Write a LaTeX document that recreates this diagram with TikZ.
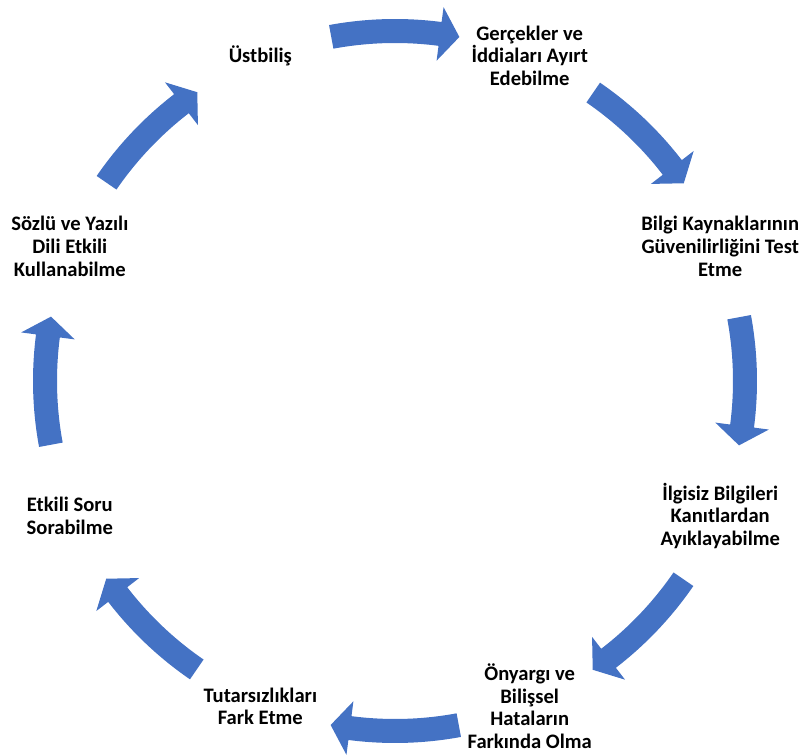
\documentclass[tikz,border=0pt]{standalone}
\usepackage{fontspec}
\setmainfont{Carlito}
\definecolor{arrowblue}{HTML}{4472C4}
\tikzset{
  lbl/.style={align=center, inner sep=0pt, font=\bfseries\fontsize{20.6}{22.6}\selectfont, text=black},
  cyclearrow/.style={fill=arrowblue, draw=none}
}
% #1 = centre angle of the arrow
\newcommand{\cycarrow}[1]{%
  \pgfmathsetmacro{\ta}{#1+10.5}%
  \pgfmathsetmacro{\hb}{#1-7.4}%
  \pgfmathsetmacro{\tp}{#1-10.6}%
  \fill[cyclearrow, shift={(395pt,374pt)}]
    (\ta:362pt) arc[start angle=\ta, end angle=\hb, radius=362pt]
    -- (\hb:377pt) -- (\tp:350pt) -- (\hb:323pt) -- (\hb:338pt)
    arc[start angle=\hb, end angle=\ta, radius=338pt] -- cycle;
}
\begin{document}
\begin{tikzpicture}[x=1pt,y=1pt]
\useasboundingbox (0,0) rectangle (806,755);
\coordinate (c) at (395,374);
\foreach \a in {90,45,0,-45,-90,-135,180,135} {\cycarrow{\a}}
\node[lbl] (n1) at ([shift={(c)}]112.5:352pt) {Üstbiliş};
\node[lbl] (n2) at ([shift={(c)}]67.5:352pt) {Gerçekler ve\\İddiaları Ayırt\\Edebilme};
\node[lbl] (n3) at ([shift={(c)}]22.5:352pt) {Bilgi Kaynaklarının\\Güvenilirliğini Test\\Etme};
\node[lbl] (n4) at ([shift={(c)}]-22.5:352pt) {İlgisiz Bilgileri\\Kanıtlardan\\Ayıklayabilme};
\node[lbl] (n5) at ([shift={(c)}]-67.5:352pt) {Önyargı ve\\Bilişsel\\Hataların\\Farkında Olma};
\node[lbl] (n6) at ([shift={(c)}]-112.5:352pt) {Tutarsızlıkları\\Fark Etme};
\node[lbl] (n7) at ([shift={(c)}]-157.5:352pt) {Etkili Soru\\Sorabilme};
\node[lbl] (n8) at ([shift={(c)}]157.5:352pt) {Sözlü ve Yazılı\\Dili Etkili\\Kullanabilme};
\end{tikzpicture}
\end{document}
